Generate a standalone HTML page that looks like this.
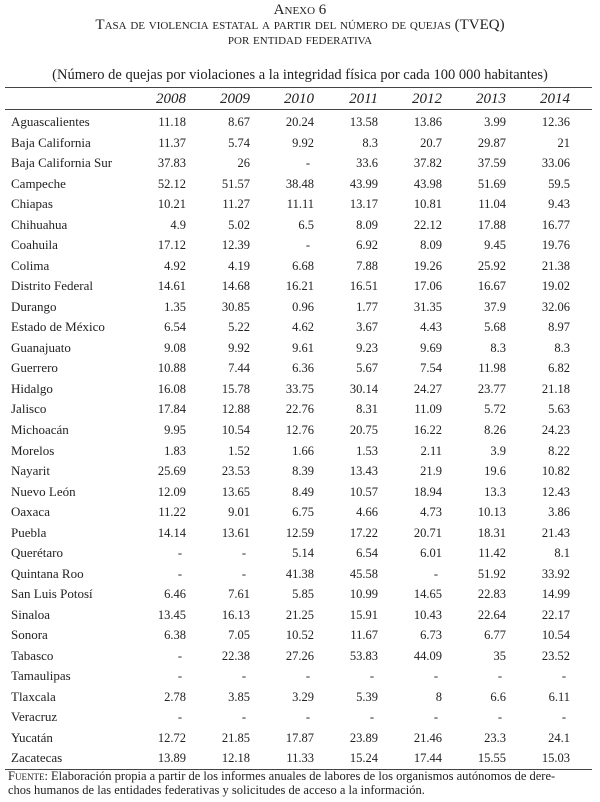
<!DOCTYPE html>
<html><head><meta charset="utf-8"><style>
body{margin:0;width:600px;height:802px;background:#fff;font-family:"Liberation Serif",serif;color:#222;position:relative;overflow:hidden}
.t{position:absolute;left:0;width:600px;text-align:center;font-variant:small-caps;font-size:15px;line-height:15px}
table{position:absolute;left:5px;top:87px;width:587px;border-collapse:collapse;table-layout:fixed;font-size:12.5px}
td,th{padding:0;height:20.52px;text-align:right;white-space:nowrap;line-height:20px}
th{font-style:italic;font-weight:normal;font-size:15px;height:21px}
thead tr{border-top:1.5px solid #444;border-bottom:1px solid #444}
tbody tr:first-child td{padding-top:2px}
tbody tr:last-child{border-bottom:1.5px solid #444}
td:first-child{text-align:left;padding-left:6px;font-size:13px}
.d{padding-right:4px}
.f{position:absolute;left:8px;top:769px;width:585px;font-size:12.5px;line-height:14px;white-space:nowrap}
</style></head><body>
<div class="t" style="top:3px">Anexo 6</div>
<div class="t" style="top:18px">Tasa de violencia estatal a partir del número de quejas (TVEQ)</div>
<div class="t" style="top:33px">por entidad federativa</div>
<div style="position:absolute;left:0;width:600px;top:66px;text-align:center;font-size:14.5px;line-height:18px">(Número de quejas por violaciones a la integridad física por cada 100 000 habitantes)</div>
<table>
<colgroup><col style="width:117px"><col style="width:64px"><col style="width:64px"><col style="width:64px"><col style="width:64px"><col style="width:64px"><col style="width:64px"><col style="width:64px"><col style="width:22px"></colgroup>
<thead><tr><th></th><th>2008</th><th>2009</th><th>2010</th><th>2011</th><th>2012</th><th>2013</th><th>2014</th><th></th></tr></thead>
<tbody>
<tr><td>Aguascalientes</td><td>11.18</td><td>8.67</td><td>20.24</td><td>13.58</td><td>13.86</td><td>3.99</td><td>12.36</td><td></td></tr>
<tr><td>Baja California</td><td>11.37</td><td>5.74</td><td>9.92</td><td>8.3</td><td>20.7</td><td>29.87</td><td>21</td><td></td></tr>
<tr><td>Baja California Sur</td><td>37.83</td><td>26</td><td class="d">-</td><td>33.6</td><td>37.82</td><td>37.59</td><td>33.06</td><td></td></tr>
<tr><td>Campeche</td><td>52.12</td><td>51.57</td><td>38.48</td><td>43.99</td><td>43.98</td><td>51.69</td><td>59.5</td><td></td></tr>
<tr><td>Chiapas</td><td>10.21</td><td>11.27</td><td>11.11</td><td>13.17</td><td>10.81</td><td>11.04</td><td>9.43</td><td></td></tr>
<tr><td>Chihuahua</td><td>4.9</td><td>5.02</td><td>6.5</td><td>8.09</td><td>22.12</td><td>17.88</td><td>16.77</td><td></td></tr>
<tr><td>Coahuila</td><td>17.12</td><td>12.39</td><td class="d">-</td><td>6.92</td><td>8.09</td><td>9.45</td><td>19.76</td><td></td></tr>
<tr><td>Colima</td><td>4.92</td><td>4.19</td><td>6.68</td><td>7.88</td><td>19.26</td><td>25.92</td><td>21.38</td><td></td></tr>
<tr><td>Distrito Federal</td><td>14.61</td><td>14.68</td><td>16.21</td><td>16.51</td><td>17.06</td><td>16.67</td><td>19.02</td><td></td></tr>
<tr><td>Durango</td><td>1.35</td><td>30.85</td><td>0.96</td><td>1.77</td><td>31.35</td><td>37.9</td><td>32.06</td><td></td></tr>
<tr><td>Estado de México</td><td>6.54</td><td>5.22</td><td>4.62</td><td>3.67</td><td>4.43</td><td>5.68</td><td>8.97</td><td></td></tr>
<tr><td>Guanajuato</td><td>9.08</td><td>9.92</td><td>9.61</td><td>9.23</td><td>9.69</td><td>8.3</td><td>8.3</td><td></td></tr>
<tr><td>Guerrero</td><td>10.88</td><td>7.44</td><td>6.36</td><td>5.67</td><td>7.54</td><td>11.98</td><td>6.82</td><td></td></tr>
<tr><td>Hidalgo</td><td>16.08</td><td>15.78</td><td>33.75</td><td>30.14</td><td>24.27</td><td>23.77</td><td>21.18</td><td></td></tr>
<tr><td>Jalisco</td><td>17.84</td><td>12.88</td><td>22.76</td><td>8.31</td><td>11.09</td><td>5.72</td><td>5.63</td><td></td></tr>
<tr><td>Michoacán</td><td>9.95</td><td>10.54</td><td>12.76</td><td>20.75</td><td>16.22</td><td>8.26</td><td>24.23</td><td></td></tr>
<tr><td>Morelos</td><td>1.83</td><td>1.52</td><td>1.66</td><td>1.53</td><td>2.11</td><td>3.9</td><td>8.22</td><td></td></tr>
<tr><td>Nayarit</td><td>25.69</td><td>23.53</td><td>8.39</td><td>13.43</td><td>21.9</td><td>19.6</td><td>10.82</td><td></td></tr>
<tr><td>Nuevo León</td><td>12.09</td><td>13.65</td><td>8.49</td><td>10.57</td><td>18.94</td><td>13.3</td><td>12.43</td><td></td></tr>
<tr><td>Oaxaca</td><td>11.22</td><td>9.01</td><td>6.75</td><td>4.66</td><td>4.73</td><td>10.13</td><td>3.86</td><td></td></tr>
<tr><td>Puebla</td><td>14.14</td><td>13.61</td><td>12.59</td><td>17.22</td><td>20.71</td><td>18.31</td><td>21.43</td><td></td></tr>
<tr><td>Querétaro</td><td class="d">-</td><td class="d">-</td><td>5.14</td><td>6.54</td><td>6.01</td><td>11.42</td><td>8.1</td><td></td></tr>
<tr><td>Quintana Roo</td><td class="d">-</td><td class="d">-</td><td>41.38</td><td>45.58</td><td class="d">-</td><td>51.92</td><td>33.92</td><td></td></tr>
<tr><td>San Luis Potosí</td><td>6.46</td><td>7.61</td><td>5.85</td><td>10.99</td><td>14.65</td><td>22.83</td><td>14.99</td><td></td></tr>
<tr><td>Sinaloa</td><td>13.45</td><td>16.13</td><td>21.25</td><td>15.91</td><td>10.43</td><td>22.64</td><td>22.17</td><td></td></tr>
<tr><td>Sonora</td><td>6.38</td><td>7.05</td><td>10.52</td><td>11.67</td><td>6.73</td><td>6.77</td><td>10.54</td><td></td></tr>
<tr><td>Tabasco</td><td class="d">-</td><td>22.38</td><td>27.26</td><td>53.83</td><td>44.09</td><td>35</td><td>23.52</td><td></td></tr>
<tr><td>Tamaulipas</td><td class="d">-</td><td class="d">-</td><td class="d">-</td><td class="d">-</td><td class="d">-</td><td class="d">-</td><td class="d">-</td><td></td></tr>
<tr><td>Tlaxcala</td><td>2.78</td><td>3.85</td><td>3.29</td><td>5.39</td><td>8</td><td>6.6</td><td>6.11</td><td></td></tr>
<tr><td>Veracruz</td><td class="d">-</td><td class="d">-</td><td class="d">-</td><td class="d">-</td><td class="d">-</td><td class="d">-</td><td class="d">-</td><td></td></tr>
<tr><td>Yucatán</td><td>12.72</td><td>21.85</td><td>17.87</td><td>23.89</td><td>21.46</td><td>23.3</td><td>24.1</td><td></td></tr>
<tr><td>Zacatecas</td><td>13.89</td><td>12.18</td><td>11.33</td><td>15.24</td><td>17.44</td><td>15.55</td><td>15.03</td><td></td></tr>
</tbody></table>
<div class="f"><span style="font-variant:small-caps">Fuente</span>: Elaboración propia a partir de los informes anuales de labores de los organismos autónomos de dere-<br>chos humanos de las entidades federativas y solicitudes de acceso a la información.</div>
</body></html>
